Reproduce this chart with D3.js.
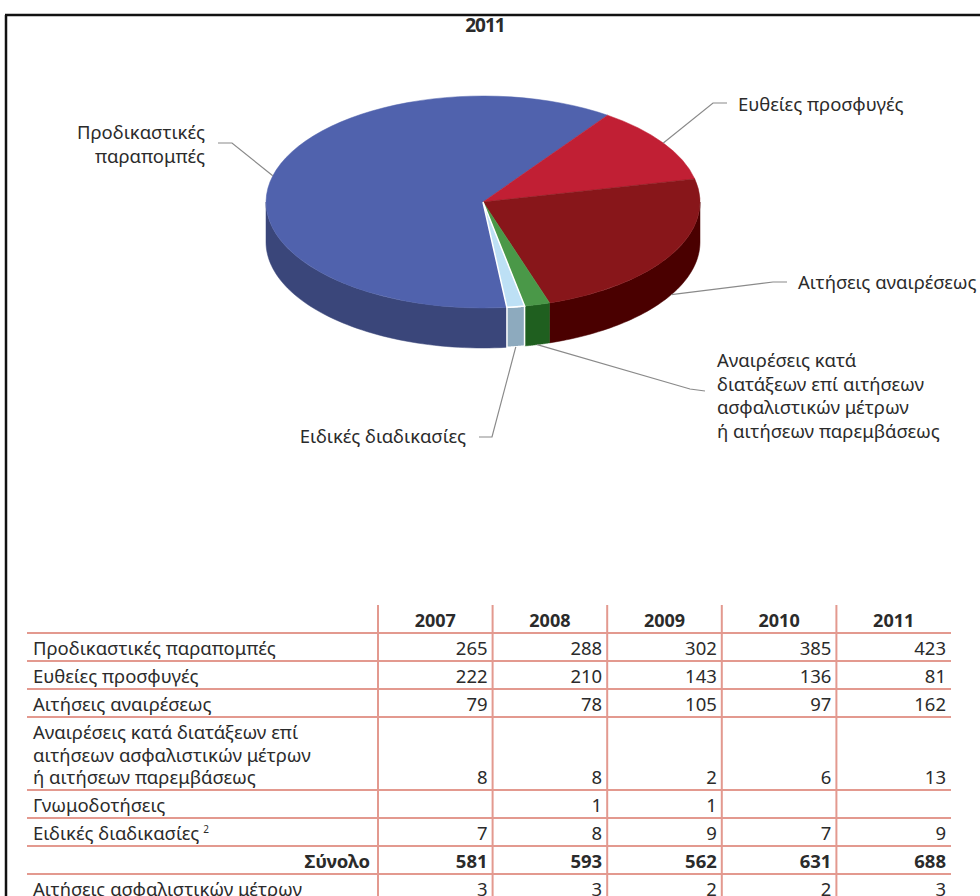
<!DOCTYPE html>
<html>
<head>
<meta charset="utf-8">
<script src="https://cdn.jsdelivr.net/npm/d3@7"></script>
<style>
  body { margin: 0; background: #fff; }
  text { font-family: "Noto Sans", sans-serif; fill: #2b2b2b; }
</style>
</head>
<body>
<div id="chart"></div>
<script>
// Table data (years as columns)
const years = [2007, 2008, 2009, 2010, 2011];
const prodikastikes = [265, 288, 302, 385, 423];
const eutheies = [222, 210, 143, 136, 81];
const aitiseisAnaireseos = [79, 78, 105, 97, 162];
const anaireseisKata = [8, 8, 2, 6, 13];
const gnomodotiseis = [null, 1, 1, null, null];
const eidikes = [7, 8, 9, 7, 9];
const synolo = [581, 593, 562, 631, 688];
const asfalistika = [3, 3, 2, 2, 3];

const rowLabels = [
    ["Προδικαστικές παραπομπές"],
    ["Ευθείες προσφυγές"],
    ["Αιτήσεις αναιρέσεως"],
    ["Αναιρέσεις κατά διατάξεων επί", "αιτήσεων ασφαλιστικών μέτρων", "ή αιτήσεων παρεμβάσεως"],
    ["Γνωμοδοτήσεις"],
    ["Ειδικές διαδικασίες"],
    ["Σύνολο"],
    ["Αιτήσεις ασφαλιστικών μέτρων"]
];
const rowValues = [prodikastikes, eutheies, aitiseisAnaireseos, anaireseisKata, gnomodotiseis, eidikes, synolo, asfalistika];

// Pie (2011 column)
const pieYear = 2011;
const pieLabels = [
    ["Προδικαστικές", "παραπομπές"],
    ["Ευθείες προσφυγές"],
    ["Αιτήσεις αναιρέσεως"],
    ["Αναιρέσεις κατά", "διατάξεων επί αιτήσεων", "ασφαλιστικών μέτρων", "ή αιτήσεων παρεμβάσεως"],
    ["Ειδικές διαδικασίες"]
];
const pieSeries = [prodikastikes, eutheies, aitiseisAnaireseos, anaireseisKata, eidikes];

const topColors = ["#5062ad", "#c11f34", "#88161a", "#4a9848", "#bde0f5"];
const sideColors = ["#3a467a", "#7a1020", "#4a0000", "#1f5f1f", "#8daabe"];

const width = 980, height = 896;
const svg = d3.select("#chart").append("svg")
    .attr("width", width)
    .attr("height", height);

// Frame
svg.append("line").attr("x1", 5).attr("x2", width).attr("y1", 15).attr("y2", 15)
    .attr("stroke", "#111").attr("stroke-width", 2.5);
svg.append("line").attr("x1", 6).attr("x2", 6).attr("y1", 15).attr("y2", height)
    .attr("stroke", "#111").attr("stroke-width", 2.5);

// Title
svg.append("text")
    .attr("x", 485).attr("y", 32)
    .attr("text-anchor", "middle")
    .attr("font-size", 19).attr("font-weight", "bold")
    .attr("letter-spacing", -1)
    .text(pieYear);

// ---- 3D pie ----
const yi = years.indexOf(pieYear);
const pieData = pieSeries.map((s, i) => ({ label: pieLabels[i], value: s[yi], i: i }));
const total = d3.sum(pieData, d => d.value);

const cx = 483, cy = 202, rx = 217, ry = 106, depth = 40;
const firstEnd = 35 * Math.PI / 180; // end of the first slice (clockwise from 12 o'clock)
const start = firstEnd - 2 * Math.PI * pieData[0].value / total;

const pie = d3.pie().sort(null).value(d => d.value)
    .startAngle(start).endAngle(start + 2 * Math.PI);
const arcs = pie(pieData);

const color = d3.scaleOrdinal().domain(d3.range(pieData.length)).range(topColors);
const sideColor = d3.scaleOrdinal().domain(d3.range(pieData.length)).range(sideColors);

const px = a => cx + rx * Math.sin(a);
const py = a => cy - ry * Math.cos(a);

function frontSegments(a0, a1) {
    const segs = [];
    for (let k = -1; k <= 1; k++) {
        const lo = Math.max(a0, Math.PI / 2 + 2 * Math.PI * k);
        const hi = Math.min(a1, 3 * Math.PI / 2 + 2 * Math.PI * k);
        if (hi > lo) segs.push([lo, hi]);
    }
    return segs;
}

const line = d3.line();
const gPie = svg.append("g");

// Side walls
arcs.forEach(a => {
    frontSegments(a.startAngle, a.endAngle).forEach(([lo, hi]) => {
        const n = 60;
        const top = d3.range(n + 1).map(j => lo + (hi - lo) * j / n);
        const pts = top.map(t => [px(t), py(t)])
            .concat(top.slice().reverse().map(t => [px(t), py(t) + depth]));
        gPie.append("path")
            .attr("d", line(pts) + "Z")
            .attr("fill", sideColor(a.data.i))
            .attr("stroke", a.data.i === 4 ? "#fff" : sideColor(a.data.i))
            .attr("stroke-width", a.data.i === 4 ? 1.5 : 0.5);
    });
});

// Top faces
const arc = d3.arc().innerRadius(0).outerRadius(1);
gPie.append("g")
    .attr("transform", `translate(${cx},${cy}) scale(${rx},${ry})`)
    .selectAll("path")
    .data(arcs)
    .join("path")
    .attr("d", arc)
    .attr("fill", d => color(d.data.i))
    .attr("stroke", d => d.data.i === 4 ? "#fff" : color(d.data.i))
    .attr("stroke-width", d => d.data.i === 4 ? 1.5 : 0.5)
    .attr("vector-effect", "non-scaling-stroke");

// Labels and leader lines
const labelLayout = [
    { x: 205, y: 139, anchor: "end", hook: [[218, 143], [232, 143]] },
    { x: 738, y: 111, anchor: "start", hook: [[727, 103], [713, 103]] },
    { x: 798, y: 289, anchor: "start", hook: [[787, 282], [773, 282]] },
    { x: 717, y: 367, anchor: "start", hook: [[705, 391], [690, 389]] },
    { x: 466, y: 443, anchor: "end", hook: [[479, 437], [492, 437]] }
];

arcs.forEach(a => {
    const L = labelLayout[a.data.i];
    const mid = (a.startAngle + a.endAngle) / 2;
    const front = Math.cos(mid) < 0;
    const end = [px(mid), py(mid) + (front ? depth : 0)];
    svg.append("path")
        .attr("d", line(L.hook.concat([end])))
        .attr("fill", "none")
        .attr("stroke", "#8a8a8a")
        .attr("stroke-width", 1.2);
    const t = svg.append("text")
        .attr("x", L.x).attr("y", L.y)
        .attr("text-anchor", L.anchor)
        .attr("font-size", 18.5);
    a.data.label.forEach((s, k) => {
        t.append("tspan").attr("x", L.x).attr("dy", k === 0 ? 0 : 23.5).text(s);
    });
});

// ---- Table ----
const tableLeft = 27, tableRight = 951, labelColRight = 378;
const headerTop = 605, headerBottom = 633;
const rowH = 28, lineH = 22.5;
const lineColor = "#e3998f";

const x = d3.scaleBand().domain(years).range([labelColRight, tableRight]);

const rowBottoms = [];
let yy = headerBottom;
rowLabels.forEach(r => { yy += rowH + (r.length - 1) * lineH; rowBottoms.push(yy); });

const gTable = svg.append("g");

// Horizontal lines
[headerBottom].concat(rowBottoms).forEach(yv => {
    gTable.append("line")
        .attr("x1", tableLeft).attr("x2", tableRight)
        .attr("y1", yv).attr("y2", yv)
        .attr("stroke", lineColor).attr("stroke-width", 2);
});

// Vertical lines
years.forEach(yr => {
    gTable.append("line")
        .attr("x1", x(yr)).attr("x2", x(yr))
        .attr("y1", headerTop).attr("y2", height)
        .attr("stroke", lineColor).attr("stroke-width", 2);
});

// Header
gTable.selectAll("text.head")
    .data(years)
    .join("text")
    .attr("class", "head")
    .attr("x", d => x(d) + x.bandwidth() / 2)
    .attr("y", 627)
    .attr("text-anchor", "middle")
    .attr("font-size", 18)
    .attr("font-weight", "bold")
    .text(d => d);

// Rows
rowLabels.forEach((lines, r) => {
    const bottom = rowBottoms[r];
    const baseline = bottom - 6;
    const isTotal = lines[0] === "Σύνολο";
    const t = gTable.append("text")
        .attr("font-size", 18.5)
        .attr("font-weight", isTotal ? "bold" : null)
        .attr("text-anchor", isTotal ? "end" : "start");
    const lx = isTotal ? labelColRight - 8 : 33;
    lines.forEach((s, k) => {
        t.append("tspan")
            .attr("x", lx)
            .attr("y", baseline - (lines.length - 1 - k) * lineH)
            .text(s);
    });
    if (lines[0] === "Ειδικές διαδικασίες") {
        t.append("tspan").attr("dx", 4).attr("dy", -7).attr("font-size", 10).text("2");
    }
    rowValues[r].forEach((v, c) => {
        if (v == null) return;
        gTable.append("text")
            .attr("x", x(years[c]) + x.bandwidth() - 5)
            .attr("y", baseline)
            .attr("text-anchor", "end")
            .attr("font-size", 18.5)
            .attr("font-weight", isTotal ? "bold" : null)
            .text(v);
    });
});
</script>
</body>
</html>
